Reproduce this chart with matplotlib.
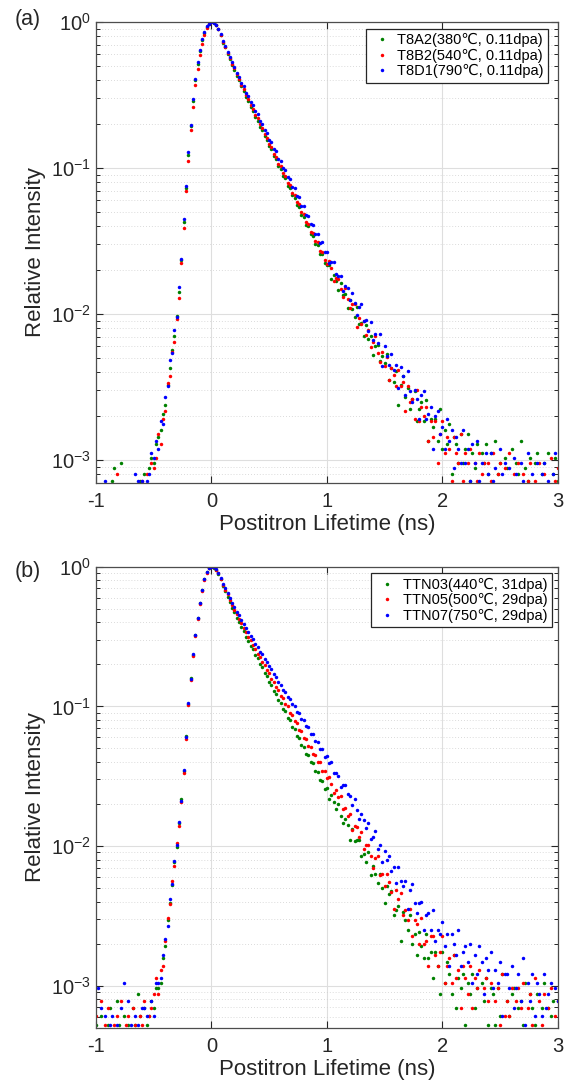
import numpy as np
import matplotlib
matplotlib.use('Agg')
import matplotlib.pyplot as plt
from matplotlib.ticker import NullLocator

plt.rcParams['font.family'] = ['Liberation Sans', 'DejaVu Sans']
plt.rcParams['mathtext.default'] = 'regular'
plt.rcParams['axes.unicode_minus'] = False

# channel 0 sits at -1 ns, 20 ps per channel
t_start = -1.0
channel_width = 0.02

# counts per channel
t8a2_counts = [
    4, 6, 3, 5, 7, 4, 5, 9, 11, 6, 3, 12, 5, 4, 6, 8, 5, 7, 4, 9, 6, 10, 8, 11, 13, 12,
    16, 18, 20, 26, 30, 41, 53, 71, 88, 122, 176, 293, 532, 915, 1538, 2415, 3590, 4975,
    6420, 7920, 9370, 10540, 11610, 12170,
    12500,
    12310, 11910, 11130, 10160, 9040, 8370, 7530, 6980, 6350, 5880, 5350, 4975, 4527, 4214,
    3826, 3590, 3278, 3079, 2805, 2642, 2401, 2270, 2057, 1950, 1761, 1676, 1509, 1440, 1291,
    1237, 1108, 1064, 949, 913, 814, 785, 698, 675, 598, 581, 512, 499, 439, 430, 376, 370,
    323, 320, 279,
    271, 271, 217, 233, 211, 183, 203, 170, 171, 138,
    155, 135, 119, 140, 107, 109, 89, 106, 84, 89,
    66, 76, 77, 60, 65, 58, 67, 44, 53, 43,
    51, 30, 41, 47, 34, 39, 28, 33, 37, 23,
    28, 31, 23, 32, 17, 24, 21, 24, 17, 28,
    15, 20, 16, 22, 10, 18, 16, 12, 19, 12,
    15, 19, 9, 14, 11, 16, 6, 14, 12, 16,
    10, 14, 8, 17, 10, 12, 7, 13, 11, 8,
    15, 8, 12, 10, 17, 5, 11, 9, 13, 7,
    12, 14, 6, 10, 12, 8, 14, 4, 10, 13,
    9,
]
t8b2_counts = [
    5, 3, 6, 4, 7, 5, 4, 6, 8, 10, 3, 6, 4, 5, 7, 6, 4, 8, 5, 7, 9, 6, 10, 8, 12, 11,
    13, 19, 16, 24, 27, 42, 47, 69, 80, 115, 161, 281, 488, 871, 1402, 2272, 3297, 4621,
    5938, 7466, 8872, 10235, 11310, 12070,
    12500,
    12420, 11960, 11190, 10210, 9120, 8460, 7640, 7100, 6470, 6010, 5490, 5110, 4660, 4350,
    3960, 3710, 3390, 3190, 2905, 2740, 2488, 2352, 2129, 2019, 1822, 1736, 1561, 1493, 1340,
    1284, 1151, 1104, 988, 951, 847, 818, 727, 704, 624, 607, 535, 521, 459, 449, 394, 387,
    338, 334, 292,
    275, 288, 257, 211, 221, 216, 185, 164, 189, 158,
    138, 146, 146, 102, 118, 107, 112, 90, 97, 74,
    81, 88, 68, 59, 69, 55, 64, 44, 53, 48,
    40, 52, 40, 43, 27, 40, 31, 33, 24, 38,
    23, 29, 25, 29, 17, 23, 18, 23, 12, 19,
    23, 14, 18, 15, 9, 18, 14, 12, 19, 9,
    14, 12, 15, 7, 12, 9, 14, 10, 12, 5,
    12, 9, 14, 7, 10, 12, 6, 11, 8, 14,
    7, 10, 6, 12, 8, 10, 4, 9, 12, 7,
    9, 7, 12, 5, 10, 8, 6, 13, 7, 9,
    11,
]
t8d1_counts = [
    4, 6, 3, 5, 9, 4, 6, 5, 3, 7, 5, 4, 6, 5, 7, 4, 6, 10, 9, 5, 9, 7, 9, 10, 14, 13,
    17, 15, 23, 22, 34, 40, 61, 68, 97, 119, 192, 298, 560, 941, 1601, 2470, 3720, 5060,
    6610, 8040, 9530, 10610, 11700, 12190,
    12500,
    12340, 11980, 11250, 10320, 9230, 8590, 7770, 7240, 6610, 6170, 5630, 5280, 4810, 4530,
    4110, 3890, 3540, 3360, 3050, 2910, 2630, 2510, 2270, 2170, 1950, 1880, 1690, 1625, 1450,
    1402, 1251, 1214, 1078, 1051, 928, 912, 801, 789, 690, 684, 597, 590, 514, 511, 445, 442,
    383, 388, 333,
    331, 280, 284, 286, 237, 227, 229, 179, 195, 189,
    157, 173, 149, 124, 139, 147, 112, 113, 96, 111,
    83, 91, 79, 92, 55, 76, 65, 56, 67, 52,
    56, 39, 54, 47, 35, 51, 37, 31, 38, 33,
    24, 35, 37, 24, 26, 29, 15, 25, 27, 19,
    21, 15, 24, 17, 20, 11, 18, 15, 12, 20,
    12, 15, 9, 16, 12, 17, 9, 12, 7, 14,
    10, 14, 9, 11, 7, 15, 10, 12, 5, 11,
    8, 13, 10, 7, 12, 9, 7, 14, 5, 10,
    8, 12, 7, 10, 12, 5, 9, 8, 10, 14,
    7,
]

# counts per channel
ttn03_counts = [
    6, 4, 7, 5, 3, 6, 8, 5, 4, 9, 6, 5, 7, 4, 6, 5, 8, 6, 10, 7, 5, 8, 6, 7, 9, 8, 11,
    11, 12, 18, 22, 34, 45, 60, 88, 114, 169, 250, 396, 705, 1200, 1835, 2690, 3730, 4920,
    6330, 7790, 9360, 10500, 11240,
    11500,
    11320, 10960, 10220, 9380, 8300, 7720, 6990, 6420, 5850, 5410, 4955, 4630, 4238, 3965,
    3612, 3402, 3120, 2945, 2693, 2545, 2322, 2198, 2002, 1897, 1726, 1639, 1486, 1416, 1280,
    1222, 1102, 1057, 949, 913, 818, 789, 704, 683, 606, 592, 524, 514, 456, 449, 396, 390,
    341, 336, 296,
    297, 251, 267, 237, 212, 229, 189, 168, 179, 162,
    127, 152, 125, 128, 128, 98, 101, 89, 104, 71,
    83, 73, 62, 72, 58, 45, 59, 52, 55, 37,
    40, 43, 24, 39, 34, 29, 37, 23, 27, 19,
    28, 22, 18, 27, 18, 20, 13, 20, 16, 10,
    20, 12, 17, 14, 10, 19, 8, 13, 11, 14,
    6, 12, 10, 14, 8, 11, 5, 12, 9, 13,
    6, 11, 10, 6, 11, 7, 14, 4, 9, 7,
    10, 11, 5, 8, 9, 6, 12, 3, 10, 8,
    6, 10, 5, 8, 12, 4, 8, 7, 9, 3,
    9,
]
ttn05_counts = [
    7, 5, 9, 4, 6, 8, 5, 3, 6, 7, 5, 9, 4, 6, 7, 5, 8, 6, 4, 7, 6, 9, 5, 7, 8, 10, 13,
    10, 15, 16, 24, 35, 44, 65, 83, 121, 160, 236, 381, 672, 1180, 1790, 2650, 3640, 4840,
    6210, 7700, 9270, 10440, 11200,
    11500,
    11390, 10960, 10340, 9430, 8550, 7840, 7280, 6590, 6130, 5620, 5270, 4840, 4550, 4180,
    3930, 3615, 3410, 3150, 2985, 2745, 2600, 2390, 2268, 2082, 1985, 1808, 1729, 1570, 1508,
    1366, 1316, 1188, 1150, 1033, 1002, 897, 876, 781, 764, 682, 671, 597, 591, 522, 519,
    458, 456, 398, 395,
    353, 358, 322, 275, 290, 256, 264, 211, 215, 189,
    196, 149, 159, 158, 133, 145, 110, 117, 116, 98,
    80, 94, 98, 71, 73, 59, 72, 64, 54, 41,
    56, 48, 53, 37, 40, 34, 41, 26, 34, 32,
    23, 35, 23, 24, 16, 26, 26, 19, 16, 20,
    26, 12, 16, 18, 12, 19, 13, 15, 8, 16,
    13, 10, 16, 8, 13, 11, 15, 4, 11, 13,
    9, 12, 5, 9, 11, 6, 14, 7, 9, 7,
    11, 3, 9, 11, 8, 12, 5, 8, 10, 6,
    13, 4, 9, 6, 10, 5, 8, 11, 4, 7,
    9,
]
ttn07_counts = [
    5, 11, 8, 5, 7, 4, 6, 7, 5, 6, 4, 8, 12, 5, 9, 6, 5, 7, 6, 4, 8, 8, 7, 5, 9, 7, 12,
    12, 13, 19, 25, 31, 48, 61, 90, 117, 172, 241, 402, 690, 1224, 1815, 2718, 3700, 4935,
    6300, 7805, 9330, 10510, 11220,
    11500,
    11350, 11010, 10340, 9590, 8700, 8080, 7410, 6880, 6335, 5930, 5490, 5170, 4780, 4505,
    4160, 3945, 3655, 3470, 3210, 3055, 2835, 2712, 2515, 2408, 2228, 2131, 1957, 1873, 1720,
    1648, 1518, 1465, 1342, 1302, 1190, 1159, 1052, 1031, 933, 918, 826, 815, 731, 725, 648,
    642, 570, 568, 499,
    509, 450, 458, 382, 384, 367, 303, 314, 312, 269,
    264, 228, 250, 209, 180, 195, 177, 154, 167, 130,
    134, 147, 109, 116, 89, 106, 92, 97, 76, 81,
    63, 81, 65, 59, 65, 41, 56, 61, 45, 38,
    45, 46, 29, 37, 38, 29, 40, 24, 29, 27,
    33, 22, 27, 16, 27, 23, 19, 29, 16, 20,
    22, 17, 23, 12, 19, 14, 22, 17, 10, 18,
    15, 20, 11, 15, 12, 17, 7, 14, 14, 11,
    16, 8, 11, 14, 9, 18, 6, 12, 9, 14,
    7, 12, 10, 7, 14, 8, 10, 12, 5, 11,
    9,
]

labels_a = ['T8A2(380℃, 0.11dpa)', 'T8B2(540℃, 0.11dpa)', 'T8D1(790℃, 0.11dpa)']
labels_b = ['TTN03(440℃, 31dpa)', 'TTN05(500℃, 29dpa)', 'TTN07(750℃, 29dpa)']
colors = ['#008000', '#ff0000', '#0000ff']

dark = '#262626'

fig = plt.figure(figsize=(5.72, 10.85), dpi=100)
ax1 = fig.add_axes([0.1678, 0.5551, 0.8072, 0.4246])
ax2 = fig.add_axes([0.1678, 0.0528, 0.8072, 0.4249])

panels = [
    (ax1, [t8a2_counts, t8b2_counts, t8d1_counts], labels_a, 7e-4, '(a)', 20, 548, 28.7),
    (ax2, [ttn03_counts, ttn05_counts, ttn07_counts], labels_b, 5e-4, '(b)', 572, 551.7, 573.3),
]

for ax, series, labels, ymin, tag, tag_y, leg_x, leg_y in panels:
    for counts, lab, col in zip(series, labels, colors):
        counts = np.array(counts, dtype=float)
        t = t_start + channel_width * np.arange(len(counts))
        ax.plot(t, counts / counts.max(), 'o', ms=2.5, mew=0, color=col, label=lab)

    ax.set_yscale('log')
    ax.set_xlim(-1, 3)
    ax.set_ylim(ymin, 1)
    ax.set_xticks([-1, 0, 1, 2, 3])
    ax.xaxis.set_minor_locator(NullLocator())
    ax.grid(True, which='major', color='#dedede', lw=0.8, ls='-')
    ax.grid(True, which='minor', axis='y', color='#cfcfcf', lw=0.6, ls=(0, (1, 2.5)))
    ax.set_axisbelow(True)
    ax.tick_params(which='both', direction='in', top=True, right=True, colors=dark,
                   labelsize=14.5, labelcolor=dark)
    ax.tick_params(which='major', length=5, width=0.8)
    ax.tick_params(which='minor', length=3, width=0.7)
    ax.tick_params(axis='x', pad=7)
    for sp in ax.spines.values():
        sp.set_color('#4d4d4d')
        sp.set_linewidth(0.9)
    ax.set_xlabel('Postitron Lifetime (ns)', fontsize=16, color=dark, labelpad=2)
    ax.set_ylabel('Relative Intensity', fontsize=16, color=dark, labelpad=4)

    fig.text(15 / 572, 1 - tag_y / 1085, tag, fontsize=15.5, color=dark, va='center')

    leg = ax.legend(loc='upper right', bbox_to_anchor=(leg_x / 572, 1 - leg_y / 1085),
                    bbox_transform=fig.transFigure, borderaxespad=0, fontsize=10.5,
                    numpoints=1, handlelength=1.6, handletextpad=0.25, borderpad=0.3,
                    labelspacing=0.1, fancybox=False, framealpha=1, markerscale=1.0)
    leg.get_frame().set_edgecolor(dark)
    leg.get_frame().set_linewidth(0.9)

fig.savefig('out.png', dpi=100)
